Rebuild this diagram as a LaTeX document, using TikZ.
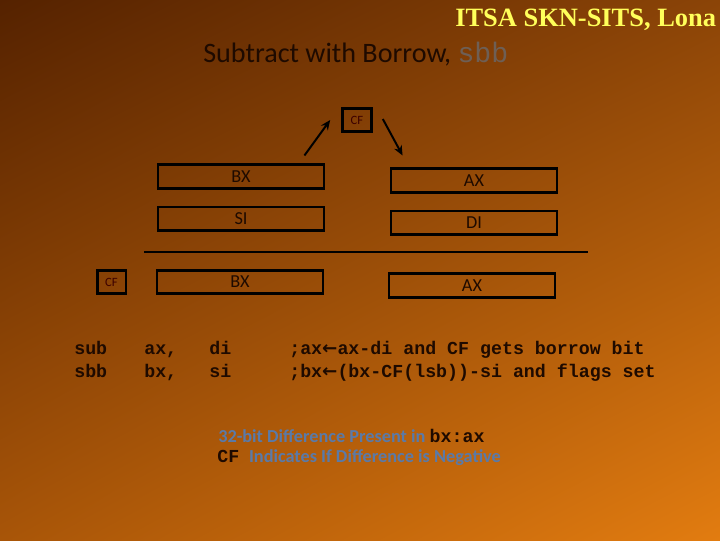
\documentclass[tikz,border=0pt]{standalone}
\usepackage{fontspec}
\setmainfont{Carlito}
\setmonofont{Liberation Mono}
\newfontfamily\headfont{Liberation Serif}
\newfontfamily\symfont{DejaVu Sans}
\usetikzlibrary{arrows.meta, shadings}
\definecolor{bgtl}{RGB}{85,34,0}
\definecolor{bgtr}{RGB}{139,68,7}
\definecolor{bgbl}{RGB}{168,85,8}
\definecolor{bgbr}{RGB}{226,124,16}
\definecolor{headyellow}{RGB}{255,255,90}
\definecolor{inktext}{RGB}{30,10,0}
\definecolor{flagtext}{RGB}{60,0,0}
\definecolor{sbbgray}{RGB}{110,95,85}
\definecolor{notebLue}{RGB}{90,122,168}
\tikzstyle{reg} = [rectangle, minimum width=4.15cm, minimum height=0.58cm, draw=black, line width=2pt, text=inktext, font=\fontsize{13}{15}\selectfont]
\tikzstyle{flag} = [rectangle, minimum width=0.72cm, minimum height=0.58cm, inner sep=0pt, draw=black, line width=2pt, text=flagtext, font=\fontsize{9}{10}\selectfont]
\tikzstyle{code} = [anchor=base west, inner sep=0pt, text=inktext, font=\ttfamily\bfseries\fontsize{13}{15}\selectfont]
\tikzstyle{note} = [anchor=base west, inner sep=0pt, text=notebLue, font=\bfseries\fontsize{13}{15}\selectfont]
\tikzstyle{arrow} = [line width=1.4pt, -{Stealth[length=7pt,width=6pt]}]

\begin{document}
\begin{tikzpicture}[x=0.025cm, y=-0.025cm, node distance=1.05cm]
    \useasboundingbox (0,0) rectangle (720,540);
    \shade [upper left=bgtl, upper right=bgtr, lower left=bgbl, lower right=bgbr] (0,0) rectangle (720,540);

    % Titles
    \node (header) [anchor=base west, inner sep=0pt, text=headyellow, font=\headfont\bfseries\fontsize{18.8}{22}\selectfont] at (455,26) {ITSA SKN-SITS, Lona};
    \node (title) [anchor=base west, inner sep=0pt, text=inktext, font=\fontsize{20}{24}\selectfont] at (203,62) {Subtract with Borrow, {\ttfamily\color{sbbgray}sbb}};

    % Registers
    \node (cf) [flag] at (357,120) {CF};
    \node (bxhi) [reg] at (241,176.5) {BX};
    \node (sihi) [reg, below of=bxhi] {SI};
    \node (axhi) [reg] at (474,180.5) {AX};
    \node (dihi) [reg, below of=axhi] {DI};
    \draw [line width=1pt] (144,252) -- (588,252);
    \node (cfres) [flag] at (111.5,282) {CF};
    \node (bxres) [reg] at (240,282) {BX};
    \node (axres) [reg] at (472,285.5) {AX};

    % Arrows
    \draw [arrow] ([shift={(-21,-8)}]bxhi.north east) -- ([shift={(-11,0)}]cf.west);
    \draw [arrow] ([shift={(10,-1)}]cf.east) -- ([shift={(13,-12)}]axhi.north west);

    % Code
    \node (op1) [code] at (74,354) {sub};
    \node (dst1) [code] at (144,354) {ax,};
    \node (src1) [code] at (209,354) {di};
    \node (cmt1) [code] at (289,354) {;ax{\symfont\bfseries ←}ax-di and CF gets borrow bit};
    \node (op2) [code] at (74,377) {sbb};
    \node (dst2) [code] at (144,377) {bx,};
    \node (src2) [code] at (209,377) {si};
    \node (cmt2) [code] at (289,377) {;bx{\symfont\bfseries ←}(bx-CF(lsb))-si and flags set};

    % Notes
    \node (note1) [note] at (218,442) {32-bit Difference Present in\hspace{3pt}{\ttfamily\color{inktext}bx:ax}};
    \node (note2) [note] at (217,462) {{\ttfamily\color{inktext}CF}\hspace{7pt}Indicates If Difference is Negative};
\end{tikzpicture}
\end{document}
